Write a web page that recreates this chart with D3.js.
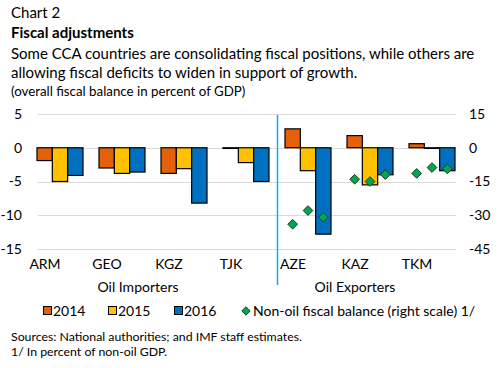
<!DOCTYPE html>
<html>
<head>
<meta charset="utf-8">
<script src="https://cdn.jsdelivr.net/npm/d3@7"></script>
<style>
  body { margin: 0; background: #fff; }
  svg { font-family: Lato, 'Open Sans', sans-serif; }
</style>
</head>
<body>
<div id="chart"></div>
<script>
// Data
const countries = ['ARM', 'GEO', 'KGZ', 'TJK', 'AZE', 'KAZ', 'TKM'];
const groups = [
  { name: 'Oil Importers', members: ['ARM', 'GEO', 'KGZ', 'TJK'] },
  { name: 'Oil Exporters', members: ['AZE', 'KAZ', 'TKM'] }
];
const years = ['2014', '2015', '2016'];
const bal2014 = [-1.9, -3.0, -3.8, -0.1, 2.8, 1.8, 0.6];
const bal2015 = [-5.0, -3.8, -3.1, -2.2, -3.4, -5.5, -0.1];
const bal2016 = [-4.1, -3.6, -8.2, -5.0, -12.8, -4.0, -3.4];
// non-oil fiscal balance, right scale (exporters only)
const nonOil = {
  AZE: [-34.0, -27.9, -30.9],
  KAZ: [-14.0, -15.0, -11.9],
  TKM: [-11.4, -8.8, -9.4]
};
const leftTicks = [5, 0, -5, -10, -15];
const rightTicks = [15, 0, -15, -30, -45];

const colors = { '2014': '#E5600B', '2015': '#FFC000', '2016': '#0070C0' };

Chart = function(_parentElement) {
  this.parentElement = _parentElement;
  this.initVis();
};

Chart.prototype.initVis = function() {
  let vis = this;

  vis.svg = d3
    .select(vis.parentElement)
    .append('svg')
    .attr('width', 500)
    .attr('height', 368);

  // Headings
  const head = [
    { t: 'Chart 2', y: 18, size: 15, w: 'normal' },
    { t: 'Fiscal adjustments', y: 38, size: 15, w: 'bold' },
    { t: 'Some CCA countries are consolidating fiscal positions, while others are', y: 59, size: 15, w: 'normal' },
    { t: 'allowing fiscal deficits to widen in support of growth.', y: 78, size: 15, w: 'normal' },
    { t: '(overall fiscal balance in percent of GDP)', y: 96, size: 13.3, w: 'normal' }
  ];
  vis.svg
    .selectAll('text.head')
    .data(head)
    .enter()
    .append('text')
    .attr('class', 'head')
    .attr('x', 11)
    .attr('y', d => d.y)
    .attr('font-size', d => d.size + 'px')
    .attr('font-weight', d => d.w)
    .attr('fill', '#000')
    .text(d => d.t);

  // Scales
  vis.top = 114;
  vis.bottom = 249;
  vis.gridLeft = 38;
  vis.gridRight = 456;
  vis.y = d3.scaleLinear().domain([-15, 5]).range([vis.bottom, vis.top]);
  vis.y2 = d3.scaleLinear().domain([-45, 15]).range([vis.bottom, vis.top]);
  vis.x = d3.scaleBand().domain(countries).range([29, 463]);
  vis.x1 = d3.scaleBand().domain(years).range([-23, 23]);

  // Gridlines
  vis.svg
    .append('g')
    .selectAll('line')
    .data(leftTicks)
    .enter()
    .append('line')
    .attr('x1', vis.gridLeft)
    .attr('x2', vis.gridRight)
    .attr('y1', d => Math.round(vis.y(d)) + 0.5)
    .attr('y2', d => Math.round(vis.y(d)) + 0.5)
    .attr('stroke', '#d9d9d9')
    .attr('stroke-width', 1);

  // plain hyphen for negatives, like the original
  const fmt = d => String(d);

  // Left axis
  const yAxis = vis.svg
    .append('g')
    .attr('transform', 'translate(' + (vis.gridLeft - 8) + ',0)')
    .call(d3.axisLeft(vis.y).tickValues(leftTicks).tickFormat(fmt).tickSize(0).tickPadding(8));
  yAxis.select('.domain').remove();
  yAxis.selectAll('text').attr('font-size', '14px').attr('font-family', 'Lato, sans-serif').attr('fill', '#000');

  // Right axis
  const y2Axis = vis.svg
    .append('g')
    .attr('transform', 'translate(' + (vis.gridRight + 5) + ',0)')
    .call(d3.axisRight(vis.y2).tickValues(rightTicks).tickFormat(fmt).tickSize(0).tickPadding(8));
  y2Axis.select('.domain').remove();
  y2Axis.selectAll('text').attr('font-size', '14px').attr('font-family', 'Lato, sans-serif').attr('fill', '#000');

  // Bars
  const barData = [];
  countries.forEach((c, i) => {
    barData.push({ c: c, year: '2014', v: bal2014[i] });
    barData.push({ c: c, year: '2015', v: bal2015[i] });
    barData.push({ c: c, year: '2016', v: bal2016[i] });
  });
  const cx = c => vis.x(c) + vis.x.bandwidth() / 2;
  vis.svg
    .append('g')
    .selectAll('rect')
    .data(barData)
    .enter()
    .append('rect')
    .attr('x', d => cx(d.c) + vis.x1(d.year))
    .attr('width', vis.x1.bandwidth())
    .attr('y', d => vis.y(Math.max(0, d.v)))
    .attr('height', d => Math.abs(vis.y(d.v) - vis.y(0)))
    .attr('fill', d => colors[d.year])
    .attr('stroke', '#000')
    .attr('stroke-width', 1.2);

  // Non-oil diamonds
  const dots = [];
  Object.keys(nonOil).forEach(c => {
    nonOil[c].forEach((v, j) => dots.push({ c: c, year: years[j], v: v }));
  });
  const diamond = d3.symbol().type(d3.symbolDiamond2).size(60);
  vis.svg
    .append('g')
    .selectAll('path')
    .data(dots)
    .enter()
    .append('path')
    .attr('d', diamond)
    .attr('transform', d => 'translate(' + (cx(d.c) + vis.x1(d.year) + vis.x1.bandwidth() / 2) + ',' + vis.y2(d.v) + ')')
    .attr('fill', '#00A651')
    .attr('stroke', '#1a3a1a')
    .attr('stroke-width', 1);

  // Category labels
  vis.svg
    .append('g')
    .selectAll('text')
    .data(countries)
    .enter()
    .append('text')
    .attr('x', d => cx(d) - 15)
    .attr('y', 269)
    .attr('text-anchor', 'middle')
    .attr('font-size', '14px')
    .text(d => d);

  // Group labels
  vis.svg
    .append('g')
    .selectAll('text')
    .data(groups)
    .enter()
    .append('text')
    .attr('x', d => {
      const xs = d.members.map(cx);
      return (d3.min(xs) + d3.max(xs)) / 2 - 15;
    })
    .attr('y', 292)
    .attr('text-anchor', 'middle')
    .attr('font-size', '14px')
    .text(d => d.name);

  // Separator between groups
  const sepX = (cx('TJK') + cx('AZE')) / 2 + 0.5;
  vis.svg
    .append('line')
    .attr('x1', sepX)
    .attr('x2', sepX)
    .attr('y1', 115)
    .attr('y2', 285)
    .attr('stroke', '#00B0F0')
    .attr('stroke-width', 1.5);

  // Legend
  const legend = vis.svg.append('g').attr('transform', 'translate(0,311)');
  const legX = [43, 108, 174];
  years.forEach((yr, i) => {
    legend
      .append('rect')
      .attr('x', legX[i] + 0.5)
      .attr('y', -4.5)
      .attr('width', 8)
      .attr('height', 8)
      .attr('fill', colors[yr])
      .attr('stroke', '#000');
    legend
      .append('text')
      .attr('x', legX[i] + 10)
      .attr('y', 5)
      .attr('font-size', '14px')
      .text(yr);
  });
  legend
    .append('path')
    .attr('d', d3.symbol().type(d3.symbolDiamond2).size(45))
    .attr('transform', 'translate(246,0)')
    .attr('fill', '#00A651')
    .attr('stroke', '#1a3a1a');
  legend
    .append('text')
    .attr('x', 253)
    .attr('y', 5)
    .attr('font-size', '14px')
    .text('Non-oil fiscal balance (right scale) 1/');

  // Notes
  vis.svg
    .append('text')
    .attr('x', 11)
    .attr('y', 341)
    .attr('font-size', '12.3px')
    .text('Sources: National authorities; and IMF staff estimates.');
  vis.svg
    .append('text')
    .attr('x', 11)
    .attr('y', 356)
    .attr('font-size', '12.3px')
    .text('1/ In percent of non-oil GDP.');
};

new Chart('#chart');
</script>
</body>
</html>
